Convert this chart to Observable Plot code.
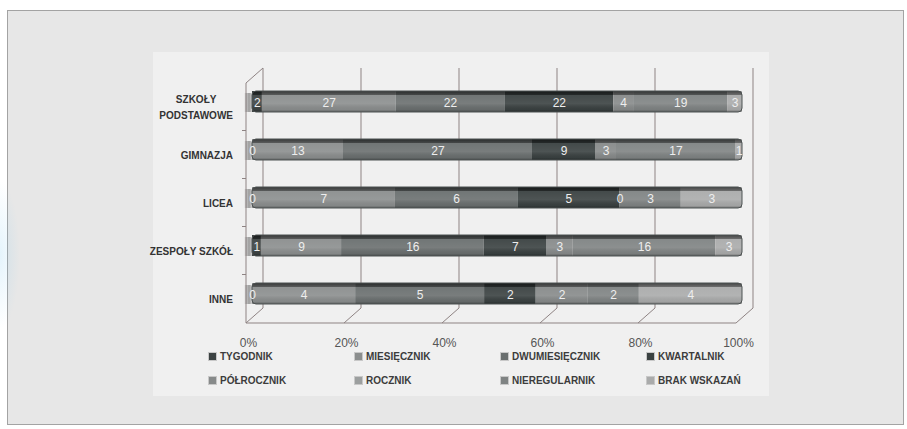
<!DOCTYPE html>
<html><head><meta charset="utf-8">
<script src="https://cdn.jsdelivr.net/npm/d3@7"></script>
<script src="https://cdn.jsdelivr.net/npm/@observablehq/plot@0.6"></script>
<style>
html,body{margin:0;padding:0;background:#fff;}
#page{position:relative;width:907px;height:429px;overflow:hidden;background:#fff;font-family:"Liberation Sans",Arial,sans-serif;}
#frame{position:absolute;left:7px;top:10px;width:895px;height:413px;border:1px solid #a3a3a3;background:#e7e7e7;}
#glow{position:absolute;left:-20px;top:180px;width:40px;height:150px;background:radial-gradient(ellipse at center,rgba(110,195,240,0.18),rgba(110,195,240,0) 70%);}
#inner{position:absolute;left:153px;top:52px;width:616px;height:344px;background:#f0f0f0;}
#chart{position:absolute;left:0;top:0;}
.cat{position:absolute;text-align:center;font-weight:bold;font-size:10px;color:#333;line-height:16px;white-space:pre;transform:translateY(-50%);}
#legend{position:absolute;left:208px;top:349px;display:grid;grid-template-columns:146px 146px 146px 146px;grid-auto-rows:24px;}
.li{display:flex;align-items:center;height:14px;font-weight:bold;font-size:10px;color:#3c3c3c;white-space:nowrap;}
.sw{width:7px;height:7px;border:1px solid #c8c8c8;margin-right:3px;}
</style></head>
<body>
<div id="page">
  <div id="frame"></div>
  <div id="glow"></div>
  <div id="inner"></div>
  <div id="chart"></div>
  <div id="labels"></div>
  <div id="legend"></div>
</div>
<script>
// Categories (y) and series (legend)
const categories = ["SZKOŁY\nPODSTAWOWE", "GIMNAZJA", "LICEA", "ZESPOŁY SZKÓŁ", "INNE"];
const series = ["TYGODNIK", "MIESIĘCZNIK", "DWUMIESIĘCZNIK", "KWARTALNIK", "PÓŁROCZNIK", "ROCZNIK", "NIEREGULARNIK", "BRAK WSKAZAŃ"];
// Values per series, in category order (null = no segment drawn)
const tygodnik      = [2, 0, 0, 1, 0];
const miesiecznik   = [27, 13, 7, 9, 4];
const dwumiesiecznik= [22, 27, 6, 16, 5];
const kwartalnik    = [22, 9, 5, 7, 2];
const polrocznik    = [4, 3, 0, 3, 2];
const rocznik       = [null, null, null, null, null];
const nieregularnik = [19, 17, 3, 16, 2];
const brakWskazan   = [3, 1, 3, 3, 4];
const xTicks = [0, 0.2, 0.4, 0.6, 0.8, 1];
const colors = ["#3c4242", "#8b8e8e", "#6a6f6f", "#3a4141", "#878a8a", "#9c9f9f", "#7f8383", "#aaabab"];

const seriesValues = [tygodnik, miesiecznik, dwumiesiecznik, kwartalnik, polrocznik, rocznik, nieregularnik, brakWskazan];
const data = [];
series.forEach((s, si) => seriesValues[si].forEach((v, ci) => {
  if (v != null) data.push({cat: categories[ci], series: s, value: v});
}));

const W = 907, H = 429;
const chart = Plot.plot({
  width: W, height: H,
  marginLeft: 252, marginRight: 165, marginTop: 77, marginBottom: 110,
  style: {background: "transparent", overflow: "visible", color: "#555", fontFamily: "'Liberation Sans', Arial, sans-serif"},
  x: {domain: [0, 1], axis: null},
  y: {domain: categories, axis: null, paddingInner: 0.56, paddingOuter: 0.28},
  color: {domain: series, range: colors},
  marks: [
    Plot.barX(data, Plot.stackX({offset: "normalize", x: "value", y: "cat", z: "series", fill: "series"})),
    Plot.barX(categories, {x1: 0, x2: 1, y: d => d, fill: "url(#shade)", rx: 4, stroke: "#4d5252", strokeWidth: 1}),
    Plot.text(data, Plot.stackX({offset: "normalize", x: "value", y: "cat", z: "series",
      text: d => String(d.value), fill: "#eeeeee", fontSize: 12, dy: 1})),
    Plot.axisX({ticks: xTicks, tickFormat: d3.format(".0%"), tickSize: 0, tickPadding: 19, dx: -4, fontSize: 12, label: null})
  ]
});
document.getElementById("chart").appendChild(chart);

// 3D decorations drawn with the plot's own scales
const X = chart.scale("x"), Y = chart.scale("y");
const yTop = Math.min(...Y.range), yBot = Math.max(...Y.range);
const svg = d3.select(chart);
const defs = svg.insert("defs", ":first-child");
const gr = defs.append("linearGradient").attr("id", "shade").attr("x1", 0).attr("y1", 0).attr("x2", 0).attr("y2", 1);
[[0, "#000", 0.6], [0.17, "#000", 0.38], [0.21, "#fff", 0.05], [0.6, "#fff", 0.1], [0.88, "#000", 0.05], [1, "#000", 0.3]]
  .forEach(([o, c, a]) => gr.append("stop").attr("offset", o).attr("stop-color", c).attr("stop-opacity", a));
const lg = defs.append("linearGradient").attr("id", "wallshade").attr("x1", 0).attr("y1", 0).attr("x2", 1).attr("y2", 0);
[[0, 0], [0.5, 0.35], [1, 0]].forEach(([o, a]) => lg.append("stop").attr("offset", o).attr("stop-color", "#000").attr("stop-opacity", a));

const firstMark = chart.querySelector("defs").nextSibling;
const deco = d3.select(chart.insertBefore(document.createElementNS("http://www.w3.org/2000/svg", "g"), firstMark))
  .attr("stroke", "#8e8383").attr("stroke-width", 1).attr("fill", "none");
const fx = t => X.apply(t) - 6, bx = t => X.apply(t) + 11;
const fTop = yTop + 6, fBot = yBot + 4, bTop = yTop - 9, bBot = yBot - 11;
xTicks.forEach(t => {
  deco.append("line").attr("x1", bx(t)).attr("x2", bx(t)).attr("y1", bTop).attr("y2", bBot);
  deco.append("line").attr("x1", fx(t)).attr("x2", bx(t)).attr("y1", fBot).attr("y2", bBot);
});
deco.append("line").attr("x1", fx(0)).attr("x2", fx(1)).attr("y1", fBot).attr("y2", fBot);
deco.append("line").attr("x1", fx(0)).attr("x2", fx(0)).attr("y1", fTop).attr("y2", fBot);
deco.append("line").attr("x1", fx(0)).attr("x2", bx(0)).attr("y1", fTop).attr("y2", bTop);
const gap = Y.step - Y.bandwidth;
categories.slice(1).forEach(c => {
  const yy = Y.apply(c) - gap / 2 + 5;
  deco.append("line").attr("x1", fx(0) - 4).attr("x2", fx(0)).attr("y1", yy).attr("y2", yy);
});
categories.forEach(c => {
  deco.append("rect").attr("stroke", "none").attr("x", X.apply(0) - 8).attr("width", 10)
    .attr("y", Y.apply(c) + 2).attr("height", Y.bandwidth - 2).attr("fill", "url(#wallshade)");
});

// Category labels positioned with the y scale
const labels = document.getElementById("labels");
categories.forEach(c => {
  const d = document.createElement("div");
  d.className = "cat";
  d.textContent = c;
  d.style.right = (W - (X.apply(0) - 19)) + "px";
  d.style.top = (Y.apply(c) + Y.bandwidth / 2 + 6) + "px";
  labels.appendChild(d);
});

// Legend
const legend = document.getElementById("legend");
series.forEach((s, i) => {
  const it = document.createElement("div");
  it.className = "li";
  const sw = document.createElement("span");
  sw.className = "sw";
  sw.style.background = colors[i];
  it.appendChild(sw);
  it.appendChild(document.createTextNode(s));
  legend.appendChild(it);
});
</script>
</body></html>
